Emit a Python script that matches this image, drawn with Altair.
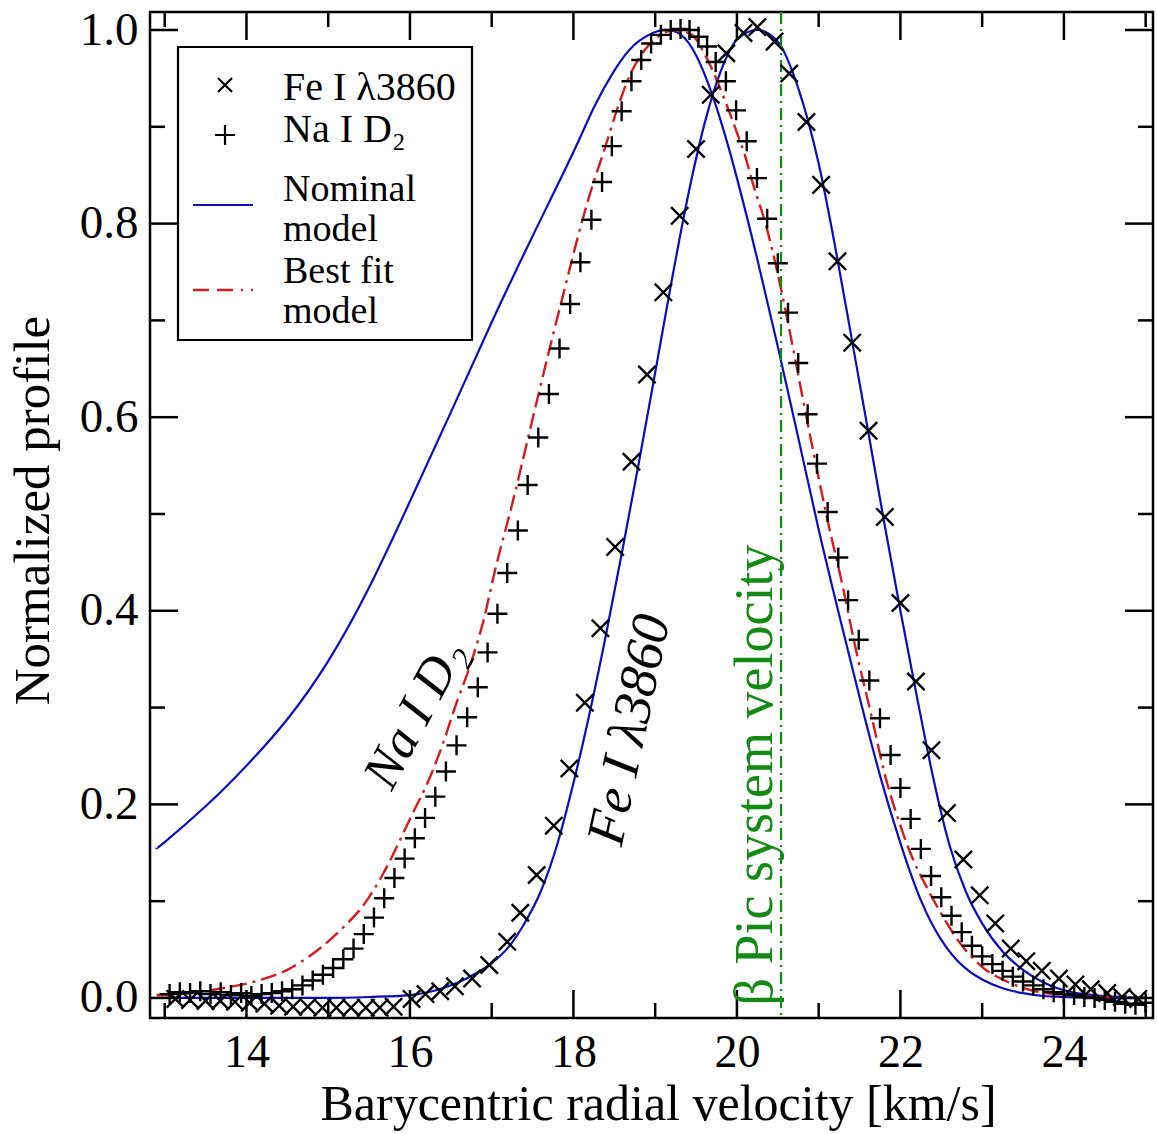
import altair as alt
import pandas as pd

# ---------------- data ----------------
fe_x = [13.13, 13.31, 13.50, 13.68, 13.86, 14.04, 14.22, 14.40, 14.57, 14.75, 14.93, 15.10,
        15.28, 15.46, 15.63, 15.80, 16.02, 16.19, 16.37, 16.55, 16.76, 16.97, 17.19, 17.35,
        17.55, 17.76, 17.95, 18.14, 18.33, 18.51, 18.71, 18.90, 19.10, 19.30, 19.50, 19.68,
        19.87, 20.08, 20.25, 20.46, 20.64, 20.85, 21.03, 21.23, 21.41, 21.61, 21.81, 22.00,
        22.19, 22.38, 22.57, 22.77, 22.97, 23.16, 23.35, 23.54, 23.73, 23.94, 24.14, 24.33,
        24.53, 24.71, 24.91]
fe_y = [-0.001, -0.002, -0.003, -0.003, -0.004, -0.005, -0.006, -0.008, -0.009, -0.009, -0.010, -0.010,
        -0.010, -0.010, -0.010, -0.009, -0.001, 0.004, 0.007, 0.012, 0.020, 0.034, 0.058, 0.088,
        0.127, 0.178, 0.237, 0.305, 0.382, 0.466, 0.554, 0.644, 0.729, 0.808, 0.877, 0.933,
        0.976, 0.997, 1.003, 0.988, 0.955, 0.905, 0.840, 0.761, 0.677, 0.586, 0.497, 0.408,
        0.327, 0.256, 0.191, 0.143, 0.106, 0.077, 0.051, 0.038, 0.028, 0.020, 0.014, 0.009,
        0.005, 0.001, -0.001]

na_x = [13.06, 13.185, 13.31, 13.435, 13.56, 13.685, 13.81, 13.935, 14.06, 14.185, 14.31, 14.435,
        14.56, 14.685, 14.81, 14.935, 15.06, 15.185, 15.31, 15.435, 15.56, 15.685, 15.81, 15.935,
        16.06, 16.185, 16.31, 16.44, 16.57, 16.70, 16.83, 16.95, 17.07, 17.19, 17.32, 17.44,
        17.57, 17.70, 17.83, 17.96, 18.085, 18.22, 18.35, 18.47, 18.59, 18.71, 18.83, 18.95,
        19.07, 19.19, 19.31, 19.42, 19.53, 19.635, 19.74, 19.865, 19.99, 20.12, 20.245, 20.37,
        20.50, 20.625, 20.75, 20.865, 20.98, 21.11, 21.24, 21.36, 21.49, 21.62, 21.75, 21.88,
        22.00, 22.125, 22.25, 22.375, 22.50, 22.625, 22.75, 22.875, 23.00, 23.125, 23.25, 23.375,
        23.50, 23.625, 23.75, 23.875, 24.00, 24.125, 24.25, 24.375, 24.50, 24.625, 24.75, 24.875,
        25.00]
na_y = [0.004, 0.006, 0.005, 0.007, 0.004, 0.006, 0.003, 0.005, 0.002, 0.004, 0.005, 0.007,
        0.009, 0.013, 0.018, 0.024, 0.031, 0.040, 0.051, 0.066, 0.083, 0.103, 0.124, 0.144,
        0.165, 0.186, 0.208, 0.234, 0.261, 0.290, 0.321, 0.357, 0.397, 0.439, 0.483, 0.530,
        0.579, 0.624, 0.671, 0.717, 0.760, 0.804, 0.843, 0.880, 0.916, 0.947, 0.969, 0.986,
        0.995, 1.000, 1.001, 1.000, 0.993, 0.983, 0.967, 0.947, 0.917, 0.885, 0.847, 0.805,
        0.759, 0.708, 0.656, 0.603, 0.552, 0.502, 0.455, 0.411, 0.370, 0.328, 0.289, 0.251,
        0.217, 0.185, 0.154, 0.126, 0.104, 0.085, 0.068, 0.054, 0.043, 0.035, 0.028, 0.022,
        0.017, 0.013, 0.009, 0.006, 0.004, 0.003, 0.001, 0.000, -0.002, -0.004, -0.006, -0.007,
        -0.005]

nom_na_x = [12.9, 13.0, 13.5, 14.0, 14.5, 15.0, 15.5, 16.0, 16.5, 17.0, 17.5, 18.0, 18.25, 18.5,
            18.75, 19.0, 19.15, 19.3, 19.5, 19.75, 20.0, 20.25, 20.5, 20.75, 21.0, 21.25, 21.5,
            21.75, 22.0, 22.25, 22.5, 22.75, 23.0, 23.25, 23.5, 23.75, 24.0, 24.5, 25.0]
nom_na_y = [0.155, 0.161, 0.198, 0.240, 0.288, 0.348, 0.424, 0.513, 0.605, 0.698, 0.787, 0.874,
            0.920, 0.958, 0.985, 0.998, 1.000, 0.996, 0.974, 0.920, 0.847, 0.763, 0.673, 0.579,
            0.484, 0.396, 0.311, 0.230, 0.160, 0.101, 0.060, 0.034, 0.019, 0.010, 0.005, 0.002,
            0.001, 0.000, 0.000]

nom_fe_x = [12.9, 14.0, 15.0, 15.5, 16.0, 16.4, 16.8, 17.0, 17.2, 17.4, 17.6, 17.8, 18.0, 18.2,
            18.4, 18.6, 18.8, 19.0, 19.2, 19.4, 19.6, 19.8, 20.0, 20.25, 20.5, 20.75, 21.0, 21.2,
            21.4, 21.6, 21.8, 22.0, 22.2, 22.4, 22.6, 22.8, 23.0, 23.25, 23.5, 23.75, 24.0, 24.25,
            24.5, 25.0]
nom_fe_y = [0.000, 0.000, 0.000, 0.001, 0.003, 0.010, 0.025, 0.036, 0.052, 0.077, 0.110, 0.158,
            0.222, 0.295, 0.376, 0.463, 0.553, 0.646, 0.740, 0.828, 0.902, 0.957, 0.990, 1.000,
            0.988, 0.940, 0.862, 0.777, 0.683, 0.588, 0.492, 0.400, 0.312, 0.228, 0.158, 0.110,
            0.077, 0.048, 0.029, 0.016, 0.008, 0.004, 0.002, 0.000]

fit_x = [12.9, 13.0, 13.3, 13.7, 14.1, 14.5, 14.8, 15.15, 15.45, 15.65, 15.85, 16.0, 16.25, 16.4,
         16.55, 16.75, 16.9, 17.05, 17.25, 17.5, 17.7, 17.9, 18.05, 18.2, 18.4, 18.55, 18.7,
         18.87, 19.03, 19.25, 19.45, 19.6, 19.72, 19.85, 20.0, 20.1, 20.2, 20.35, 20.5, 20.65,
         20.8, 20.95, 21.1, 21.3, 21.45, 21.65, 21.8, 22.0, 22.15, 22.3, 22.5, 22.7, 23.0, 23.3,
         23.6, 24.0, 24.5, 25.0]
fit_y = [0.003, 0.003, 0.005, 0.010, 0.017, 0.029, 0.045, 0.070, 0.098, 0.125, 0.158, 0.185,
         0.229, 0.262, 0.300, 0.347, 0.390, 0.445, 0.510, 0.598, 0.668, 0.735, 0.785, 0.830,
         0.882, 0.922, 0.955, 0.979, 0.993, 1.000, 0.995, 0.976, 0.955, 0.928, 0.894, 0.870,
         0.840, 0.800, 0.748, 0.687, 0.622, 0.558, 0.497, 0.423, 0.362, 0.290, 0.234, 0.178,
         0.144, 0.118, 0.087, 0.060, 0.032, 0.017, 0.008, 0.003, 0.001, 0.000]

system_velocity = [20.54]

x_major = [14, 16, 18, 20, 22, 24]
x_minor = [13, 15, 17, 19, 21, 23, 25]
y_major = [0.0, 0.2, 0.4, 0.6, 0.8, 1.0]
y_minor = [0.1, 0.3, 0.5, 0.7, 0.9]

# ---------------- styling ----------------
W, H = 1003, 1006
FONT = "Liberation Serif"
BLUE = "#0c0cc4"
RED = "#d41c1c"
GREEN = "#138a13"
XMARK = "M-1,-1L1,1M-1,1L1,-1"
PLUS = "M-1,0L1,0M0,-1L0,1"

xs = alt.Scale(domain=[12.82, 25.09], nice=False, zero=False)
ys = alt.Scale(domain=[-0.0207, 1.0186], nice=False, zero=False)

x_axis = alt.Axis(values=x_major, format="d", title="Barycentric radial velocity [km/s]",
                  titleFont=FONT, titleFontSize=50, titleFontWeight="normal", titleColor="black",
                  titleX=508, titleY=101, titleAlign="center", titleBaseline="alphabetic",
                  labelFont=FONT, labelFontSize=46, labelColor="black", labelPadding=12,
                  ticks=False, domain=False, grid=False, labelFlush=False)
y_axis = alt.Axis(values=y_major, format=".1f", title="Normalized profile",
                  titleFont=FONT, titleFontSize=51, titleFontWeight="normal", titleColor="black",
                  titleX=-102, titleY=498, titleAngle=270, titleAlign="center",
                  titleBaseline="alphabetic",
                  labelFont=FONT, labelFontSize=47, labelColor="black", labelPadding=12,
                  ticks=False, domain=False, grid=False, labelFlush=False)

X = lambda f: alt.X(f, scale=xs, axis=x_axis)
Y = lambda f: alt.Y(f, scale=ys, axis=y_axis)


def df(x, y):
    return pd.DataFrame({"x": x, "y": y})


def curve(x, y, color, width, dash=None, interp="natural"):
    kw = dict(color=color, strokeWidth=width, interpolate=interp, clip=True)
    if dash:
        kw["strokeDash"] = dash
    return alt.Chart(df(x, y)).mark_line(**kw).encode(x=X("x:Q"), y=Y("y:Q"))


nominal_na = curve(nom_na_x, nom_na_y, BLUE, 2.2)
nominal_fe = curve(nom_fe_x, nom_fe_y, BLUE, 2.2, interp="monotone")
best_fit = curve(fit_x, fit_y, RED, 2.4, [16, 6, 16, 6, 3, 6], interp="monotone")

vsys = alt.Chart(pd.DataFrame({"v": system_velocity})).mark_rule(
    color=GREEN, strokeWidth=2.2, strokeDash=[12, 5, 2, 5]
).encode(x=X("v:Q"), y=alt.value(0), y2=alt.value(H))

fe_points = alt.Chart(df(fe_x, fe_y)).mark_point(
    shape=XMARK, size=300, filled=False, stroke="black", strokeWidth=2.4, opacity=1, clip=True
).encode(x=X("x:Q"), y=Y("y:Q"))

na_points = alt.Chart(df(na_x, na_y)).mark_point(
    shape=PLUS, size=400, filled=False, stroke="black", strokeWidth=2.4, opacity=1, clip=True
).encode(x=X("x:Q"), y=Y("y:Q"))


# inward ticks on all four sides
def x_ticks(vals, length):
    base = alt.Chart(pd.DataFrame({"v": vals})).mark_rule(color="black", strokeWidth=2.5)
    bottom = base.encode(x=X("v:Q"), y=alt.value(H), y2=alt.value(H - length))
    top = base.encode(x=X("v:Q"), y=alt.value(0), y2=alt.value(length))
    return [bottom, top]


def y_ticks(vals, length):
    base = alt.Chart(pd.DataFrame({"v": vals})).mark_rule(color="black", strokeWidth=2.5)
    left = base.encode(y=Y("v:Q"), x=alt.value(0), x2=alt.value(length))
    right = base.encode(y=Y("v:Q"), x=alt.value(W), x2=alt.value(W - length))
    return [left, right]


ticks = x_ticks(x_major, 28) + x_ticks(x_minor, 15) + y_ticks(y_major, 28) + y_ticks(y_minor, 15)


def label(text, x, y, size, angle=0, color="black", italic=False, align="center"):
    mk = dict(font=FONT, fontSize=size, color=color, align=align, baseline="middle", angle=angle)
    if italic:
        mk["fontStyle"] = "italic"
    return alt.Chart(pd.DataFrame({"t": [text]})).mark_text(**mk).encode(
        text="t:N", x=alt.value(x), y=alt.value(y))


annotations = [
    label("Na I D\u2082", 265, 702, 52, angle=298, italic=True),
    label("Fe I \u03bb3860", 480, 718, 54, angle=282, italic=True),
    label("\u03b2 Pic system velocity", 606, 763, 54, angle=270, color=GREEN),
]

# legend (drawn by hand, in plot-area pixels)
one = pd.DataFrame({"a": [0]})
legend_box = alt.Chart(one).mark_rect(fill="white", stroke="black", strokeWidth=2.2).encode(
    x=alt.value(28), x2=alt.value(322), y=alt.value(35), y2=alt.value(328))
leg_x = alt.Chart(one).mark_point(shape=XMARK, size=200, filled=False, stroke="black",
                                  strokeWidth=2.2, opacity=1).encode(x=alt.value(75), y=alt.value(73))
leg_plus = alt.Chart(one).mark_point(shape=PLUS, size=400, filled=False, stroke="black",
                                     strokeWidth=2.2, opacity=1).encode(x=alt.value(75), y=alt.value(123))
leg_blue = alt.Chart(one).mark_rule(color=BLUE, strokeWidth=2.2).encode(
    x=alt.value(43), x2=alt.value(103), y=alt.value(193))
leg_red = alt.Chart(one).mark_rule(color=RED, strokeWidth=2.4, strokeDash=[16, 8, 16, 8, 2, 8]).encode(
    x=alt.value(43), x2=alt.value(103), y=alt.value(278))
legend_texts = [
    label("Fe I \u03bb3860", 133, 76, 40, align="left"),
    label("Na I D\u2082", 133, 118, 40, align="left"),
    label("Nominal", 133, 178, 38, align="left"),
    label("model", 133, 218, 38, align="left"),
    label("Best fit", 133, 260, 38, align="left"),
    label("model", 133, 300, 38, align="left"),
]

chart = alt.layer(
    nominal_na, nominal_fe, best_fit, vsys, fe_points, na_points,
    *ticks, *annotations,
    legend_box, leg_x, leg_plus, leg_blue, leg_red, *legend_texts,
).properties(
    width=W, height=H,
    padding={"left": 150, "top": 12, "right": 4, "bottom": 116},
    autosize=alt.AutoSizeParams(type="none"),
    background="white",
).configure_view(stroke="black", strokeWidth=2.5)

chart.save("out.html", embed_options={"renderer": "svg", "actions": False})
